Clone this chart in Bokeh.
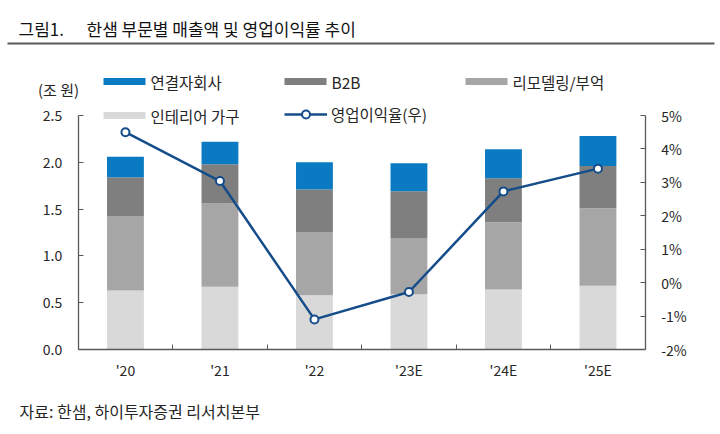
from bokeh.plotting import figure
from bokeh.models import (Range1d, LinearAxis, FixedTicker, NumeralTickFormatter,
                          PrintfTickFormatter, Label, Legend, LegendItem, BoxAnnotation,
                          ColumnDataSource)
from bokeh.embed import file_html
from bokeh.resources import INLINE

# ---- data ----
cats = ["'20", "'21", "'22", "'23E", "'24E", "'25E"]
interior = [0.63, 0.67, 0.58, 0.59, 0.64, 0.68]   # 인테리어 가구
remodel = [0.79, 0.89, 0.67, 0.60, 0.72, 0.83]    # 리모델링/부억
b2b = [0.42, 0.42, 0.46, 0.50, 0.47, 0.45]        # B2B
subs = [0.22, 0.24, 0.29, 0.30, 0.31, 0.32]       # 연결자회사
op_margin = [4.5, 3.04, -1.1, -0.28, 2.73, 3.41]  # 영업이익율(우), %
left_ticks = [0.0, 0.5, 1.0, 1.5, 2.0, 2.5]
right_ticks = [-2, -1, 0, 1, 2, 3, 4, 5]

series = ["interior", "remodel", "b2b", "subs"]
colors = ["#D9D9D9", "#A6A6A6", "#7F7F7F", "#0A7AC2"]
names = ["인테리어 가구", "리모델링/부억", "B2B", "연결자회사"]

FONT = "Noto Sans CJK KR"
TXT = "#262626"
AX = "#595959"
LINE = "#154C8A"

# ---- layout (pixels in the 720x434 canvas) ----
W, H = 720, 434
PL, PR, PT, PB = 77.7, 644.7, 115.0, 349.0   # plot area edges
n = len(cats)
ylo, yhi = left_ticks[0], left_ticks[-1]
plo, phi = right_ticks[0], right_ticks[-1]
kx = (PR - PL) / n
ky = (PB - PT) / (yhi - ylo)
kp = (PB - PT) / (phi - plo)
x_range = Range1d(-PL / kx, n + (W - PR) / kx)
y_range = Range1d(ylo - (H - PB) / ky, yhi + PT / ky)
p_range = Range1d(plo - (H - PB) / kp, phi + PT / kp)

xs = [i + 0.5 for i in range(n)]
src = ColumnDataSource(dict(x=xs, interior=interior, remodel=remodel, b2b=b2b,
                            subs=subs, m=op_margin))

p = figure(width=W, height=H, output_backend="svg", toolbar_location=None,
           x_range=x_range, y_range=y_range, min_border=0,
           min_border_left=0, min_border_right=0, min_border_top=0,
           min_border_bottom=0)
p.outline_line_color = None
p.grid.visible = False
p.background_fill_color = "white"
p.border_fill_color = "white"
p.extra_y_ranges = {"pct": p_range}

bars = p.vbar_stack(series, x="x", width=0.39, color=colors, line_color=None, source=src)
ln = p.line("x", "m", y_range_name="pct", line_color=LINE, line_width=2.5, source=src)
sc = p.scatter("x", "m", y_range_name="pct", size=8, fill_color="white",
               line_color=LINE, line_width=2, source=src)

def style_axis(ax):
    ax.axis_line_color = AX
    ax.axis_line_width = 1.3
    ax.major_tick_line_color = AX
    ax.major_tick_in = 5
    ax.major_tick_out = 0
    ax.minor_tick_line_color = None
    ax.major_label_text_font = FONT
    ax.major_label_text_font_size = "14px"
    ax.major_label_text_color = TXT

# left axis
ya = p.yaxis[0]
style_axis(ya)
ya.ticker = FixedTicker(ticks=left_ticks)
ya.formatter = NumeralTickFormatter(format="0.0")
ya.major_label_standoff = 16
ya.fixed_location = 0
ya.bounds = (ylo, yhi)

# right axis
ra = LinearAxis(y_range_name="pct", ticker=FixedTicker(ticks=right_ticks),
                formatter=PrintfTickFormatter(format="%d%%"))
style_axis(ra)
ra.major_label_standoff = 16
ra.fixed_location = n
ra.bounds = (plo, phi)
p.add_layout(ra, "right")

# bottom axis
xa = p.xaxis[0]
style_axis(xa)
xa.ticker = FixedTicker(ticks=xs, minor_ticks=list(range(1, n)))
xa.major_label_overrides = {x: c for x, c in zip(xs, cats)}
xa.major_tick_line_color = None
xa.minor_tick_line_color = AX
xa.minor_tick_in = 5
xa.minor_tick_out = 0
xa.major_label_standoff = 10
xa.fixed_location = ylo
xa.bounds = (0, n)

# ---- texts: screen units, x from left, y from top of canvas ----
def lab(text, x, y, size="15.5px", align="left", color=TXT):
    p.add_layout(Label(x=x, y=H - y, x_units="screen", y_units="screen", text=text,
                       text_font=FONT, text_font_size=size, text_color=color,
                       text_align=align, text_baseline="middle"))

def box(l, r, t, b, color):
    p.add_layout(BoxAnnotation(left=l, right=r, bottom=H - b, top=H - t,
                               left_units="screen", right_units="screen",
                               bottom_units="screen", top_units="screen",
                               fill_color=color, fill_alpha=1, line_color=None,
                               level="overlay"))

lab("그림1.", 18, 28, "17px", color="#111111")
lab("한샘 부문별 매출액 및 영업이익률 추이", 86, 28, "17px", color="#111111")
box(7, 714, 42, 44, "#5a5a5a")
lab("(조 원)", 58, 89, "15px", align="center")
lab("자료: 한샘, 하이투자증권 리서치본부", 19, 410, "16px")

# legend swatches + texts
box(103, 145, 77.5, 84.5, colors[3]); lab(names[3], 150, 81)
box(284, 326, 77.5, 84.5, colors[2]); lab(names[2], 331, 81)
box(465, 507, 77.5, 84.5, colors[1]); lab(names[1], 512, 81)
box(103, 145, 111.5, 118.5, colors[0]); lab(names[0], 150, 115)

lg = Legend(items=[LegendItem(label="영업이익율(우)", renderers=[ln, sc])],
            location=(284, H - 125), orientation="horizontal", glyph_width=43,
            glyph_height=20, label_standoff=4, padding=0, margin=0, spacing=0,
            border_line_color=None, background_fill_alpha=0,
            label_text_font=FONT, label_text_font_size="15.5px",
            label_text_color=TXT, label_height=20)
p.add_layout(lg)

open("out.html", "w").write(file_html(p, INLINE))
